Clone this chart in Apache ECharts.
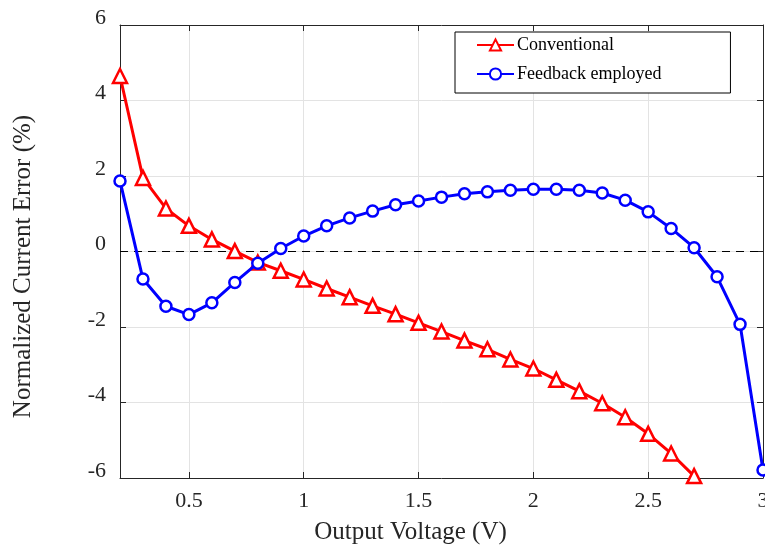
<!DOCTYPE html>
<html><head><meta charset="utf-8">
<script src="https://cdn.jsdelivr.net/npm/echarts@6/dist/echarts.min.js"></script>
<style>html,body{margin:0;padding:0;background:#fff}#c{width:765px;height:547px}</style>
</head><body><div id="c"></div>
<script>
const xValues = [0.2,0.3,0.4,0.5,0.6,0.7,0.8,0.9,1.0,1.1,1.2,1.3,1.4,1.5,1.6,1.7,1.8,1.9,2.0,2.1,2.2,2.3,2.4,2.5,2.6,2.7,2.8,2.9,3.0];
const conventional = [4.65,1.95,1.14,0.68,0.32,0.01,-0.29,-0.51,-0.74,-0.98,-1.21,-1.44,-1.66,-1.89,-2.12,-2.36,-2.59,-2.86,-3.10,-3.40,-3.70,-4.02,-4.39,-4.83,-5.35,-5.95];
const feedback = [1.87,-0.73,-1.45,-1.67,-1.36,-0.82,-0.31,0.08,0.41,0.68,0.89,1.07,1.24,1.34,1.44,1.53,1.58,1.62,1.65,1.65,1.62,1.55,1.36,1.05,0.61,0.10,-0.67,-1.93,-5.79];
const xTicks = [0.5,1,1.5,2,2.5,3];
const yTicks = [-6,-4,-2,0,2,4,6];

const font = '"Liberation Serif","Times New Roman",serif';
const axisColor = '#262626';
const chart = echarts.init(document.getElementById('c'));
const pairs = (ys) => ys.map((y,i)=>[xValues[i], y]);

const baseX = {
  type:'value', min:0.2, max:3,
  axisLine:{show:true,onZero:false,lineStyle:{color:axisColor,width:1}},
  axisTick:{show:true,inside:true,length:6,customValues:xTicks,lineStyle:{color:axisColor}},
  splitLine:{show:false}
};
const baseY = {
  type:'value', min:-6, max:6, interval:2,
  axisLine:{show:true,onZero:false,lineStyle:{color:axisColor,width:1}},
  axisTick:{show:true,inside:true,length:6,customValues:yTicks,lineStyle:{color:axisColor}},
  splitLine:{show:false}
};

chart.setOption({
  animation:false,
  backgroundColor:'#fff',
  grid:{left:120,right:2,top:25,bottom:69,containLabel:false,outerBoundsMode:'none'},
  legend:{
    left:455, top:32, orient:'vertical',
    padding:[4,69,10,21], itemGap:11, itemWidth:37, itemHeight:14,
    borderColor:'#000', borderWidth:1, backgroundColor:'#fff',
    textStyle:{fontFamily:font,fontSize:18,color:'#000',padding:[0,0,0,-2]},
    data:['Conventional','Feedback employed']
  },
  xAxis:[
    Object.assign({}, baseX, {
      position:'bottom',
      axisLabel:{show:true,customValues:xTicks,margin:12,fontFamily:font,fontSize:22,color:axisColor},
      splitLine:{show:true,lineStyle:{color:'#e3e3e3',width:1}},
      name:'Output Voltage (V)', nameLocation:'middle', nameGap:42,
      nameTextStyle:{fontFamily:font,fontSize:25,color:axisColor,padding:[0,62,0,0]}
    }),
    Object.assign({}, baseX, {position:'top', axisLabel:{show:false}})
  ],
  yAxis:[
    Object.assign({}, baseY, {
      position:'left',
      axisLabel:{show:true,customValues:yTicks,margin:14,fontFamily:font,fontSize:22,color:axisColor,verticalAlign:'bottom',lineHeight:14},
      splitLine:{show:true,lineStyle:{color:'#e3e3e3',width:1}},
      name:'Normalized Current Error (%)', nameLocation:'middle', nameGap:84,
      nameTextStyle:{fontFamily:font,fontSize:25,color:axisColor,padding:[0,30,0,0]}
    }),
    Object.assign({}, baseY, {position:'right', axisLabel:{show:false}})
  ],
  series:[
    {
      name:'Conventional', type:'line', data:pairs(conventional),
      xAxisIndex:0, yAxisIndex:0,
      symbol:'triangle', symbolSize:14, showAllSymbol:true,
      lineStyle:{color:'#ff0000',width:3},
      itemStyle:{color:'#ffffff',borderColor:'#ff0000',borderWidth:2.5},
      z:3,
      markLine:{
        silent:true, symbol:['none','none'], label:{show:false},
        lineStyle:{color:'#000',type:[8,6],width:1},
        data:[{yAxis:0}], z:1
      }
    },
    {
      name:'Feedback employed', type:'line', data:pairs(feedback),
      xAxisIndex:0, yAxisIndex:0,
      symbol:'circle', symbolSize:11, showAllSymbol:true,
      lineStyle:{color:'#0000ff',width:3},
      itemStyle:{color:'#ffffff',borderColor:'#0000ff',borderWidth:2.5},
      z:4
    }
  ]
});
</script></body></html>
